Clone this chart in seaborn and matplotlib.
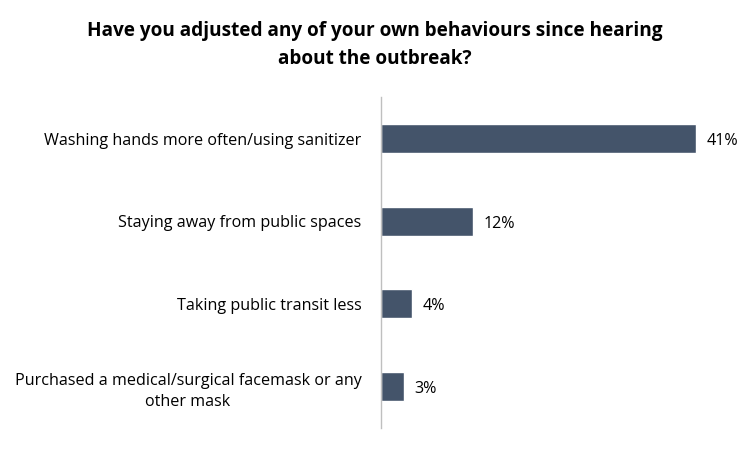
import matplotlib
matplotlib.use("Agg")
import matplotlib.pyplot as plt
import seaborn as sns
import pandas as pd

categories = ["Washing hands more often/using sanitizer",
              "Staying away from public spaces",
              "Taking public transit less",
              "Purchased a medical/surgical facemask or any\nother mask"]
values = [41, 12, 4, 3]
value_labels = ["41%", "12%", "4%", "3%"]
title = "Have you adjusted any of your own behaviours since hearing\nabout the outbreak?"

sns.set_style("white")
plt.rcParams['font.family'] = ['Open Sans', 'DejaVu Sans']

df = pd.DataFrame({"cat": categories, "val": values})
fig = plt.figure(figsize=(7.5, 4.5), dpi=100)
ax = fig.add_axes([0.508, 0.049, 0.461, 0.735])
sns.barplot(data=df, x="val", y="cat", color="#44546A", width=0.35, ax=ax, saturation=1)
ax.set_xlim(0, 45)
ax.set_ylim(3.5, -0.5)
ax.set_xlabel("")
ax.set_ylabel("")
ax.set_xticks([])
for s in ["top", "right", "bottom"]:
    ax.spines[s].set_visible(False)
ax.spines["left"].set_color("#BFBFBF")
ax.spines["left"].set_linewidth(1)
ax.tick_params(axis="y", length=0, pad=14, labelsize=11.6, labelcolor="#000000")
for lab in ax.get_yticklabels():
    lab.set_horizontalalignment("right")
    lab.set_multialignment("center")
    lab.set_linespacing(1.45)
for i, (v, t) in enumerate(zip(values, value_labels)):
    ax.text(v + 1.4, i + 0.03, t, va="center", ha="left", fontsize=11.6, color="#000000")
fig.text(0.5, 0.90, title, ha="center", va="center", fontsize=13.7,
         fontweight="bold", linespacing=1.5, color="#000000")
fig.savefig("out.png", dpi=100)
